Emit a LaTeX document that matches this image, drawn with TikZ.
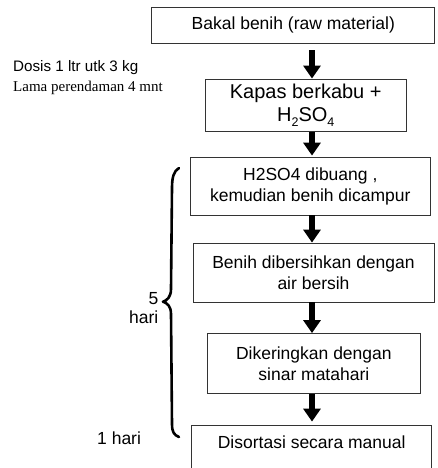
\documentclass[tikz,border=0pt]{standalone}
\usepackage{fontspec}
\setmainfont{Liberation Sans}
\newfontfamily\timesf{Liberation Serif}
\usetikzlibrary{arrows.meta}
\newcommand{\lowsub}[1]{\raisebox{-5pt}{\fontsize{12.5}{12.5}\selectfont #1}}
\begin{document}
\begin{tikzpicture}[x=1pt,y=-1pt,
  box/.style={draw=black!80, line width=0.8pt, inner sep=0pt, align=center,
    font=\fontsize{17.5}{21}\selectfont},
  flow/.style={line width=6.5pt, -{Triangle[length=13pt 0, width=17pt 0]}},
  lbl/.style={inner sep=0pt, font=\fontsize{17.5}{19}\selectfont},
  brace/.style={line width=2.6pt, line cap=round, line join=round}]
\useasboundingbox (0,0) rectangle (438,468);
\fill[white] (0,0) rectangle (438,468);
% boxes
\node[box, minimum width=283pt, minimum height=36pt] (b1) at (293.3,25) {Bakal benih (raw material)};
\node[box, minimum width=200.5pt, minimum height=52.7pt, font=\fontsize{20}{23}\selectfont] (b2) at (305.75,105.3)
  {Kapas berkabu +\\H\lowsub{2}SO\lowsub{4}};
\node[box, minimum width=240.7pt, minimum height=58pt] (b3) at (310.3,186)
  {H2SO4 dibuang ,\\kemudian benih dicampur};
\node[box, minimum width=241pt, minimum height=59pt] (b4) at (313.5,272.5)
  {Benih dibersihkan dengan\\air bersih};
\node[box, minimum width=213.7pt, minimum height=60pt] (b5) at (313.85,363.5)
  {Dikeringkan dengan\\sinar matahari};
\node[box, minimum width=240pt, minimum height=60pt, text depth=25pt] (b6) at (311.7,455)
  {Disortasi secara manual};
% arrows
\coordinate (ax) at (312,0);
\draw[flow, shorten <=7pt] (b1.south -| ax) -- (b2.north -| ax);
\draw[flow, shorten >=1pt] (b2.south -| ax) -- (b3.north -| ax);
\draw[flow] (b3.south -| ax) -- (b4.north -| ax);
\draw[flow] (b4.south -| ax) -- (b5.north -| ax);
\draw[flow, shorten >=3pt] (b5.south -| ax) -- (b6.north -| ax);
% left labels
\node[inner sep=0pt, anchor=west, font=\fontsize{15.2}{18}\selectfont] (dosis) at (13,68) {Dosis 1 ltr utk 3 kg};
\node[inner sep=0pt, anchor=west, font=\timesf\fontsize{15}{18}\selectfont] (lama) at (13,88) {Lama perendaman 4 mnt};
\node[lbl, anchor=east, align=right] (lima) at (158.5,308.5) {5\\hari};
\node[lbl, anchor=west] (satu) at (97,438) {1 hari};
% brace
\draw[brace] (179,168) .. controls (173.5,171) and (172,178) .. (172,188)
  -- (171,289) .. controls (171,297) and (167,300.5) .. (163,301.7)
  .. controls (167,303) and (171,306) .. (171,314)
  -- (172,424) .. controls (172,432) and (174,435) .. (179,437);
\end{tikzpicture}
\end{document}
